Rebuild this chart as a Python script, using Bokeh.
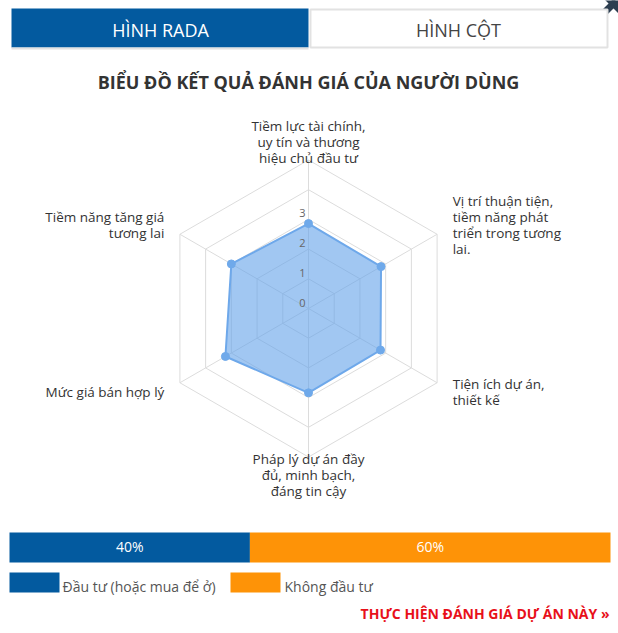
import numpy as np
from bokeh.plotting import figure
from bokeh.models import Range1d
from bokeh.core.properties import value
from bokeh.embed import file_html
from bokeh.resources import INLINE

# ---------------- data ----------------
categories = [
    "Tiềm lực tài chính,\nuy tín và thương\nhiệu chủ đầu tư",
    "Vị trí thuận tiện,\ntiềm năng phát\ntriển trong tương\nlai.",
    "Tiện ích dự án,\nthiết kế",
    "Pháp lý dự án đầy\nđủ, minh bạch,\nđáng tin cậy",
    "Mức giá bán hợp lý",
    "Tiềm năng tăng giá\ntương lai",
]
scores = [2.86, 2.82, 2.80, 2.84, 3.23, 3.00]
ring_values = [1, 2, 3, 4, 5]
tick_values = [0, 1, 2, 3]
tick_labels = ["0", "1", "2", "3"]
tabs = ["HÌNH RADA", "HÌNH CỘT"]
chart_title = "BIỂU ĐỒ KẾT QUẢ ĐÁNH GIÁ CỦA NGƯỜI DÙNG"
vote_labels = ["Đầu tư (hoặc mua để ở)", "Không đầu tư"]
vote_shares = [40, 60]
link_text = "THỰC HIỆN ĐÁNH GIÁ DỰ ÁN NÀY »"

# ---------------- styles ----------------
FONT = "Open Sans"
BLUE = "#035a9f"
ORANGE = "#fe9307"
GRID = "#dcdcdc"

W, H = 618, 633
p = figure(width=W, height=H, output_backend="svg", toolbar_location=None,
           x_range=Range1d(0, W), y_range=Range1d(H, 0),
           min_border=0, outline_line_color=None)
p.axis.visible = False
p.grid.visible = False
p.background_fill_color = "white"
p.border_fill_color = "white"

# close icon (clipped at top right)
p.segment(x0=[601, 601], y0=[15, -9], x1=[625, 625], y1=[-9, 15],
          line_color="#2d3e50", line_width=7, line_cap="round")

# tabs
p.quad(left=[11], right=[308], top=[8], bottom=[47], fill_color=BLUE, line_color=None)
p.quad(left=[310], right=[607], top=[9], bottom=[47], fill_color="white",
       line_color="#e2e2e2", line_width=2)
p.line([11, 308], [48, 48], line_color="#e2e2e2", line_width=2)
p.text(x=[160, 458], y=[29, 29], text=tabs, text_align="center", text_baseline="middle",
       text_font=value(FONT), text_font_size="18px", text_color=["white", "#444444"])

# title
p.text(x=[308], y=[81], text=[chart_title], text_align="center", text_baseline="middle",
       text_font=value(FONT), text_font_size="18px", text_font_style="bold",
       text_color="#333333")

# ---------------- radar ----------------
CX, CY, UNIT = 308.0, 308.0, 29.7
n = len(categories)
theta = np.deg2rad(90 - 360.0 / n * np.arange(n))
cos_t, sin_t = np.cos(theta), np.sin(theta)

def to_xy(r):
    r = np.asarray(r, dtype=float) * UNIT
    return CX + r * cos_t, CY - r * sin_t

# rings
for rv in ring_values:
    xs, ys = to_xy([rv] * n)
    p.line(list(xs) + [xs[0]], list(ys) + [ys[0]], line_color=GRID, line_width=1)
# spokes
ox, oy = to_xy([max(ring_values)] * n)
p.segment(x0=[CX] * n, y0=[CY] * n, x1=list(ox), y1=list(oy), line_color=GRID, line_width=1)

# data polygon
dx, dy = to_xy(scores)
p.patch(list(dx), list(dy), fill_color="#62a2e9", fill_alpha=0.6,
        line_color="#6ea8ea", line_width=2)
p.scatter(list(dx), list(dy), size=8, fill_color="#6fa9ea", line_color="#6fa9ea")

# tick labels
p.text(x=[302] * len(tick_values), y=[CY - t * UNIT - 6 for t in tick_values], text=tick_labels,
       text_align="center", text_baseline="middle", text_font=value(FONT),
       text_font_size="11px", text_color="#666666")

# point labels
R_LAB = max(ring_values) * UNIT + 18
LINE_H = 16
lx, ly, lt, la = [], [], [], []
for i, cat in enumerate(categories):
    lines = cat.split("\n")
    ax = CX + R_LAB * cos_t[i]
    ay = CY - R_LAB * sin_t[i]
    if abs(cos_t[i]) < 0.01:
        al = "center"
    elif cos_t[i] > 0:
        al = "left"
    else:
        al = "right"
    for j, ln in enumerate(lines):
        lx.append(ax)
        ly.append(ay + (j - (len(lines) - 1) / 2) * LINE_H)
        lt.append(ln)
        la.append(al)
p.text(x=lx, y=ly, text=lt, text_align=la, text_baseline="middle",
       text_font=value(FONT), text_font_size="13.5px", text_color="#333333")

# ---------------- vote bar ----------------
BX0, BW = 9.0, 601.0
cum = np.concatenate([[0], np.cumsum(vote_shares)]) / sum(vote_shares)
lefts = BX0 + cum[:-1] * BW
rights = BX0 + cum[1:] * BW
p.quad(left=list(lefts), right=list(rights), top=[532] * 2, bottom=[562] * 2,
       fill_color=[BLUE, ORANGE], line_color=None)
p.text(x=list((lefts + rights) / 2), y=[546] * 2, text=[f"{v}%" for v in vote_shares],
       text_align="center", text_baseline="middle", text_font=value(FONT),
       text_font_size="14px", text_color="white")

# legend
p.quad(left=[9, 230], right=[59, 280], top=[572] * 2, bottom=[592] * 2,
       fill_color=[BLUE, ORANGE], line_color=None)
p.text(x=[62, 284], y=[586] * 2, text=vote_labels, text_align="left", text_baseline="middle",
       text_font=value(FONT), text_font_size="14px", text_color="#555555")

# link
p.text(x=[609], y=[613], text=[link_text], text_align="right", text_baseline="middle",
       text_font=value(FONT), text_font_size="14px", text_font_style="bold",
       text_color="#e8101a")

open("out.html", "w").write(file_html(p, INLINE))
